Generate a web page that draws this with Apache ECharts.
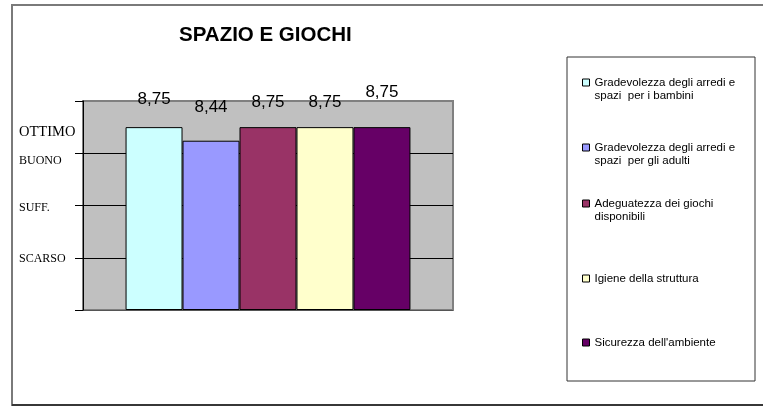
<!DOCTYPE html>
<html>
<head>
<meta charset="utf-8">
<script src="https://cdn.jsdelivr.net/npm/echarts@6/dist/echarts.min.js"></script>
<style>
  html, body { margin: 0; padding: 0; background: #fff; }
  #chart { width: 763px; height: 406px; }
</style>
</head>
<body>
<div id="chart"></div>
<script>
const seriesNames = [
  'Gradevolezza degli arredi e\nspazi  per i bambini',
  'Gradevolezza degli arredi e\nspazi  per gli adulti',
  'Adeguatezza dei giochi\ndisponibili',
  'Igiene della struttura',
  "Sicurezza dell'ambiente"
]
// bar heights as drawn against the axis, and the printed value labels
const barValues = [8.75, 8.1, 8.75, 8.75, 8.75]
const valueLabels = ['8,75', '8,44', '8,75', '8,75', '8,75']
const yTicks = [0, 2.5, 5, 7.5, 10]
const yTickLabels = ['', 'SCARSO', 'SUFF.', 'BUONO', 'OTTIMO']

const colors = ['#CCFFFF', '#9999FF', '#993366', '#FFFFCC', '#660066']
const labelDistance = [19, 25, 16, 16, 26]
const legendTops = [63, 128, 184, 272, 336]
const richKeys = ['', 'c', 's', 'b', 'o']

const chart = echarts.init(document.getElementById('chart'))

chart.setOption({
  animation: false,
  title: {
    text: 'SPAZIO E GIOCHI',
    left: 179,
    top: 25,
    padding: 0,
    textStyle: { fontFamily: 'Liberation Sans', fontSize: 20.5, fontWeight: 'bold', color: '#000' }
  },
  graphic: [
    { type: 'rect', shape: { x: 12, y: 5, width: 900, height: 400 }, style: { fill: 'none', stroke: '#7a7a7a', lineWidth: 2 }, z: -10 },
    { type: 'line', shape: { x1: 12, y1: 405, x2: 763, y2: 405 }, style: { stroke: '#222', lineWidth: 1.5 }, z: -9 },
    { type: 'rect', shape: { x: 567, y: 57, width: 188, height: 324 }, style: { fill: '#fff', stroke: '#333', lineWidth: 1 }, z: -5 }
  ],
  legend: seriesNames.map((name, i) => ({
    orient: 'vertical',
    left: 582,
    top: legendTops[i],
    padding: 0,
    itemWidth: 7,
    itemHeight: 7,
    icon: 'rect',
    selectedMode: false,
    itemStyle: { borderColor: '#000', borderWidth: 1 },
    // a leading blank line keeps the icon level with the first text line
    formatter: n => (n.indexOf('\n') >= 0 ? '\n' + n : n),
    textStyle: { fontFamily: 'Liberation Sans', fontSize: 11.5, color: '#000', lineHeight: 13 },
    data: [name]
  })),
  grid: {
    left: 83, right: 310, top: 101, bottom: 96,
    show: true,
    backgroundColor: '#C0C0C0',
    borderColor: '#808080',
    borderWidth: 2
  },
  xAxis: {
    type: 'category',
    data: [''],
    axisLine: { show: false },
    axisTick: { show: false },
    axisLabel: { show: false }
  },
  yAxis: {
    type: 'value',
    min: 0,
    max: 10,
    interval: 2.5,
    axisLine: { show: true, lineStyle: { color: '#000', width: 1 } },
    axisTick: { show: true, length: 8, lineStyle: { color: '#000' } },
    splitLine: { lineStyle: { color: ['#555', '#000', '#000', '#000', '#808080'], width: 1 } },
    axisLabel: {
      margin: 64,
      align: 'left',
      color: '#000',
      fontFamily: 'Liberation Serif',
      fontSize: 12,
      formatter: v => {
        const i = yTicks.indexOf(v)
        if (i < 1) return ''
        return '{' + richKeys[i] + '|' + yTickLabels[i] + '}'
      },
      rich: {
        o: { fontFamily: 'Liberation Serif', fontSize: 14.5, color: '#000', padding: [62, 0, 0, 0] },
        b: { fontFamily: 'Liberation Serif', fontSize: 12, color: '#000', padding: [16, 0, 0, 0] },
        s: { fontFamily: 'Liberation Serif', fontSize: 12, color: '#000', padding: [4, 0, 0, 0] },
        c: { fontFamily: 'Liberation Serif', fontSize: 12, color: '#000', padding: [2, 0, 0, 0] }
      }
    }
  },
  series: seriesNames.map((name, i) => ({
    name: name,
    type: 'bar',
    data: [barValues[i]],
    barGap: '0%',
    barCategoryGap: '23%',
    itemStyle: { color: colors[i], borderColor: '#000', borderWidth: 1 },
    label: {
      show: true,
      position: 'top',
      distance: labelDistance[i],
      fontFamily: 'Liberation Sans',
      fontSize: 17,
      color: '#000',
      formatter: () => valueLabels[i]
    }
  }))
})
</script>
</body>
</html>
